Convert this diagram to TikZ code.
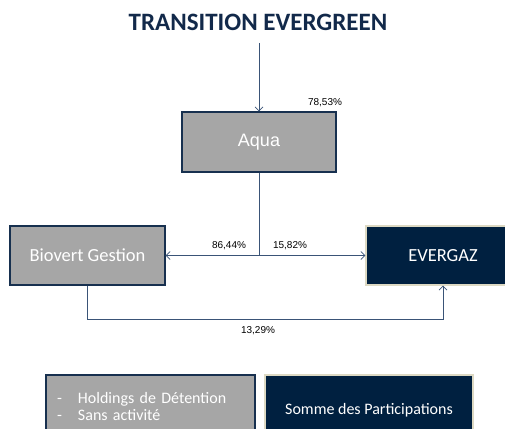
\documentclass[tikz,border=0pt]{standalone}
\usepackage{fontspec}
\setmainfont{Carlito}
\newfontfamily\arialfont{Liberation Sans}
\usetikzlibrary{arrows.meta}
\definecolor{navy}{HTML}{002040}
\definecolor{titleblue}{HTML}{12294A}
\definecolor{edgeblue}{HTML}{17304F}
\definecolor{linkblue}{HTML}{3A5477}
\definecolor{beige}{HTML}{DDD9C3}
\definecolor{boxgray}{HTML}{A6A6A6}
\begin{document}
\begin{tikzpicture}[x=1pt,y=-1pt,
	graybox/.style={draw=edgeblue,line width=1.2pt,fill=boxgray,text=white,inner sep=0pt},
	navybox/.style={draw=beige,line width=1.2pt,fill=navy,text=white,inner sep=0pt},
	link/.style={draw=linkblue,line width=.7pt,-{Straight Barb[length=4pt,width=8pt]}},
	pct/.style={font=\arialfont\fontsize{10}{12}\selectfont,inner sep=0pt}]
	\useasboundingbox (0,0) rectangle (505,428);

	\node (title) [text=titleblue,font=\bfseries\fontsize{25}{28}\selectfont] at (258,22) {TRANSITION EVERGREEN};
	\coordinate (top) at (259,43);

	\node (aqua) [graybox,minimum width=154,minimum height=60,font=\arialfont\fontsize{18}{21}\selectfont] at (259,142) {Aqua};
	\node (biovert) [graybox,minimum width=155,minimum height=59,font=\fontsize{18.5}{21}\selectfont] at (87.5,255.5) {Biovert Gestion};
	\node (evergaz) [navybox,minimum width=154,minimum height=59,font=\fontsize{18.5}{21}\selectfont] at (443,255.5) {EVERGAZ};

	\draw [link] (top) -- (aqua.north);
	\node [pct] at (325,103) {78,53\%};

	\coordinate (split) at (aqua.south |- biovert.east);
	\draw [draw=linkblue,line width=.7pt] (aqua.south) -- (split);
	\draw [link] (split) -- (biovert.east);
	\draw [link] (split) -- (evergaz.west);
	\node [pct] at (229,246) {86,44\%};
	\node [pct] at (290,246) {15,82\%};

	\draw [link] (biovert.south) -- ++(0,34) -| (evergaz.south);
	\node [pct] at (258,331) {13,29\%};

	% legend
	\node (holding) [graybox,minimum width=209,minimum height=63,text width=187,inner xsep=11pt,align=left,font=\fontsize{16}{17}\selectfont] at (150.5,406.5)
		{\makebox[21pt][l]{-}Holdings de Détention\\\makebox[21pt][l]{-}Sans activité};
	\node (somme) [navybox,minimum width=208,minimum height=70,font=\fontsize{16}{19}\selectfont] at (369,410) {Somme des Participations};
\end{tikzpicture}
\end{document}
